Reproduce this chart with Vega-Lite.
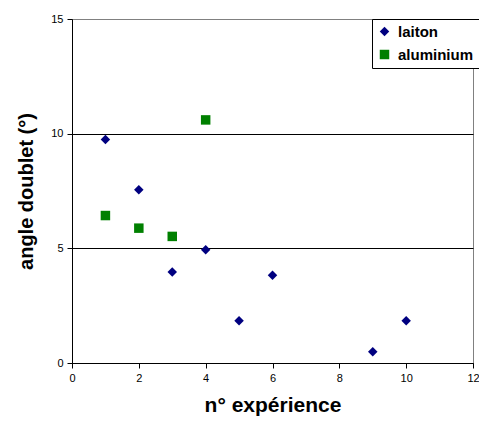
{
  "$schema": "https://vega.github.io/schema/vega-lite/v6.json",
  "autosize": "none",
  "width": 401,
  "height": 344,
  "padding": {"left": 72, "top": 19, "right": 6, "bottom": 65},
  "background": "white",
  "config": {
    "font": "Liberation Sans",
    "view": {"stroke": "#808080", "strokeWidth": 1},
    "axis": {
      "labelFont": "Liberation Sans",
      "labelFontSize": 11,
      "labelColor": "black",
      "labelFlush": false,
      "titleFont": "Liberation Sans",
      "titleFontSize": 20,
      "titleFontWeight": "bold",
      "titleColor": "black",
      "domainColor": "black",
      "tickColor": "black",
      "tickSize": 5,
      "labelPadding": 4
    },
    "legend": {
      "orient": "none",
      "legendX": 300,
      "legendY": 0,
      "strokeColor": "black",
      "fillColor": "white",
      "padding": 5,
      "labelFont": "Liberation Sans",
      "labelFontSize": 15,
      "labelFontWeight": "bold",
      "labelColor": "black",
      "symbolSize": 90,
      "labelOffset": 6,
      "rowPadding": 7
    }
  },
  "data": {
    "values": [
      {"n": 1, "angle": 9.75, "serie": "laiton"},
      {"n": 2, "angle": 7.55, "serie": "laiton"},
      {"n": 3, "angle": 3.97, "serie": "laiton"},
      {"n": 4, "angle": 4.94, "serie": "laiton"},
      {"n": 5, "angle": 1.84, "serie": "laiton"},
      {"n": 6, "angle": 3.83, "serie": "laiton"},
      {"n": 9, "angle": 0.49, "serie": "laiton"},
      {"n": 10, "angle": 1.84, "serie": "laiton"},
      {"n": 1, "angle": 6.43, "serie": "aluminium"},
      {"n": 2, "angle": 5.88, "serie": "aluminium"},
      {"n": 3, "angle": 5.52, "serie": "aluminium"},
      {"n": 4, "angle": 10.6, "serie": "aluminium"}
    ]
  },
  "mark": {"type": "point", "filled": true, "opacity": 1, "size": 90},
  "encoding": {
    "x": {
      "field": "n",
      "type": "quantitative",
      "scale": {"domain": [0, 12], "nice": false, "zero": true},
      "axis": {
        "values": [0, 2, 4, 6, 8, 10, 12],
        "grid": false,
        "title": "n° expérience",
        "titleFontSize": 21,
        "titlePadding": 11
      }
    },
    "y": {
      "field": "angle",
      "type": "quantitative",
      "scale": {"domain": [0, 15], "nice": false},
      "axis": {
        "values": [0, 5, 10, 15],
        "grid": true,
        "gridColor": {"condition": {"test": "datum.value == 15", "value": "#808080"}, "value": "black"},
        "gridOpacity": 1,
        "title": "angle doublet (°)",
        "titleX": -46,
        "titleY": 172,
        "titleAngle": -90,
        "titleAlign": "center",
        "titleBaseline": "middle"
      }
    },
    "shape": {
      "field": "serie",
      "type": "nominal",
      "scale": {"domain": ["laiton", "aluminium"], "range": ["diamond", "square"]},
      "legend": {"title": null}
    },
    "color": {
      "field": "serie",
      "type": "nominal",
      "scale": {"domain": ["laiton", "aluminium"], "range": ["#000080", "#008000"]},
      "legend": {"title": null}
    }
  }
}
